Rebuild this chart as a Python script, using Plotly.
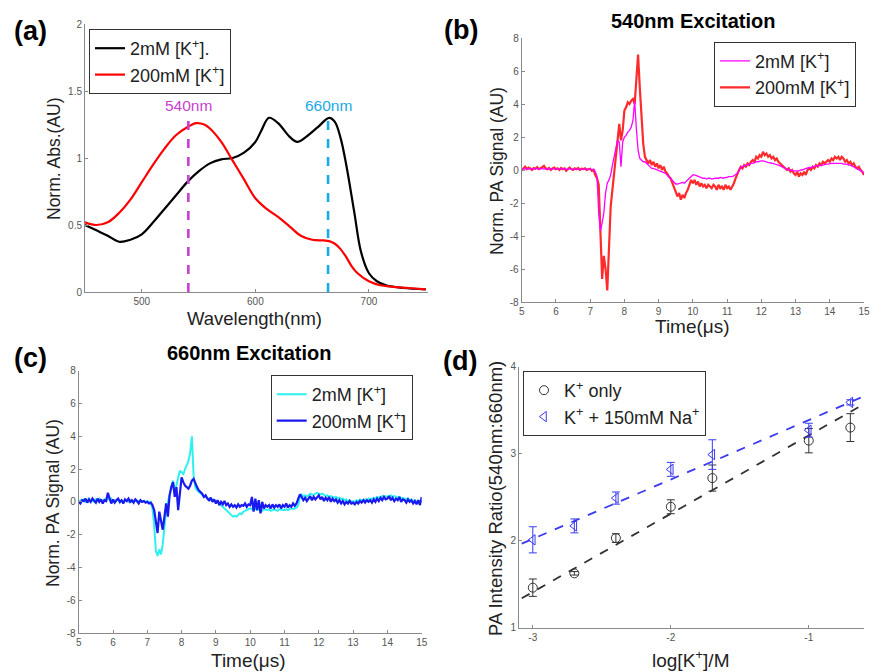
import plotly.graph_objects as go

W, H = 870, 672
FONT = "Arial, Liberation Sans, sans-serif"

# ---------------- (a) absorbance spectra ----------------
WL_2MM = [450, 460, 470, 480, 490, 500, 510, 520, 530, 540, 550, 560, 570, 580, 590, 600, 605,
          612, 620, 630, 637, 645, 655, 665, 670, 675, 680, 687, 693, 700, 707, 715, 730, 750]
ABS_2MM = [0.50, 0.46, 0.42, 0.375, 0.39, 0.43, 0.52, 0.62, 0.72, 0.82, 0.90, 0.96, 0.99, 1.00,
           1.04, 1.12, 1.20, 1.30, 1.26, 1.16, 1.12, 1.16, 1.23, 1.30, 1.27, 1.15, 0.95, 0.60,
           0.30, 0.14, 0.08, 0.05, 0.03, 0.02]
WL_200MM = [450, 460, 470, 480, 490, 500, 510, 520, 530, 540, 548, 555, 560, 570, 580, 590, 600,
            610, 620, 630, 640, 650, 660, 665, 670, 675, 680, 685, 690, 700, 710, 720, 735, 750]
ABS_200MM = [0.52, 0.50, 0.52, 0.59, 0.69, 0.82, 0.95, 1.07, 1.17, 1.23, 1.26, 1.25, 1.22, 1.12,
             0.98, 0.84, 0.70, 0.62, 0.56, 0.49, 0.42, 0.39, 0.385, 0.38, 0.36, 0.32, 0.26, 0.19,
             0.14, 0.08, 0.05, 0.04, 0.03, 0.02]
EXC_LABELS = ["540nm", "660nm"]
EXC_WL = [541, 664]
EXC_TOP = [1.32, 1.32]
EXC_COLORS = ["#c73fd0", "#1aaae6"]

# ---------------- (b), (c) PA time traces, sampled every 0.05 us from 5 us ----------------
T0, DT = 5.0, 0.05
PA540_200MM = [
    0.0, 0.1, 0.2, 0.05, 0.15, 0.1, 0.0, 0.12, 0.08, 0.18,
    0.05, 0.1, 0.15, 0.25, 0.1, 0.05, 0.12, 0.0, 0.1, 0.15,
    0.05, 0.1, 0.0, 0.12, 0.05, 0.1, -0.05, 0.08, 0.15, 0.05,
    0.0, 0.1, 0.05, 0.12, 0.0, 0.08, 0.05, 0.1, 0.0, 0.05,
    0.08, -0.05, 0.0, -0.3, -0.5, -0.9, -4.5, -6.6, -5.2, -6.0,
    -7.3, -4.2, -2.2, -1.2, -0.2, 1.0, 1.6, 2.8, 1.8, 2.4,
    3.6, 3.8, 4.1, 4.0, 4.2, 4.3, 4.0, 5.4, 7.0, 5.0,
    3.0, 1.6, 0.8, 0.6, 0.4, 0.6, 0.3, 0.5, 0.2, 0.4,
    0.1, 0.3, 0.0, 0.2, -0.1, -0.2, -0.4, -0.5, -0.8, -1.0,
    -1.3, -1.6, -1.4, -1.8, -1.5, -1.7, -1.4, -1.2, -0.9, -0.6,
    -0.8, -0.6, -0.9, -0.7, -1.0, -0.8, -1.0, -0.9, -1.1, -0.9,
    -1.0, -1.1, -0.9, -1.0, -1.2, -0.9, -1.1, -1.0, -1.2, -0.9,
    -1.1, -1.0, -1.2, -1.0, -0.8, -0.5, -0.2, 0.0, 0.2, 0.1,
    0.3, 0.2, 0.4, 0.3, 0.5, 0.6, 0.5, 0.8, 0.7, 0.9,
    0.8, 1.1, 0.9, 1.0, 0.8, 0.9, 0.7, 0.8, 0.6, 0.7,
    0.5, 0.4, 0.3, 0.2, 0.1, 0.0, 0.1, -0.1, 0.0, -0.2,
    -0.3, -0.1, -0.4, -0.2, -0.3, -0.1, -0.3, 0.0, 0.1, 0.0,
    0.2, 0.1, 0.3, 0.2, 0.4, 0.3, 0.5, 0.4, 0.5, 0.6,
    0.5, 0.7, 0.6, 0.8, 0.7, 0.8, 0.6, 0.8, 0.7, 0.5,
    0.6, 0.4, 0.5, 0.3, 0.4, 0.2, 0.1, 0.2, 0.0, -0.1,
    -0.3]
PA540_2MM = [
    0.05, 0.1, 0.05, 0.08, 0.05, 0.1, 0.05, 0.08, 0.06, 0.1,
    0.05, 0.08, 0.1, 0.05, 0.08, 0.05, 0.1, 0.05, 0.08, 0.06,
    0.05, 0.08, 0.05, 0.1, 0.05, 0.08, 0.04, 0.06, 0.08, 0.05,
    0.05, 0.08, 0.05, 0.06, 0.05, 0.08, 0.05, 0.06, 0.04, 0.05,
    0.05, 0.0, 0.05, -0.1, -0.4, -2.6, -3.7, -3.2, -2.6, -1.4,
    -0.8, -0.6, -0.3, 0.3, 0.8, 1.3, 1.8, 1.7, 0.2, 1.7,
    2.0, 2.1, 2.3, 2.4, 2.6, 3.0, 4.2, 2.5, 1.2, 0.7,
    0.6, 0.5, 0.5, 0.4, 0.3, 0.2, 0.1, 0.1, 0.05, 0.0,
    0.0, -0.05, -0.1, -0.15, -0.2, -0.3, -0.4, -0.5, -0.6, -0.7,
    -0.85, -0.85, -0.8, -0.8, -0.75, -0.8, -0.7, -0.6, -0.45, -0.35,
    -0.3, -0.3, -0.35, -0.4, -0.45, -0.5, -0.5, -0.5, -0.55, -0.5,
    -0.5, -0.55, -0.5, -0.5, -0.5, -0.5, -0.45, -0.5, -0.5, -0.45,
    -0.45, -0.4, -0.4, -0.4, -0.35, -0.3, -0.2, 0.0, 0.15, 0.2,
    0.25, 0.3, 0.3, 0.35, 0.4, 0.4, 0.45, 0.5, 0.5, 0.55,
    0.55, 0.55, 0.5, 0.5, 0.45, 0.45, 0.4, 0.4, 0.35, 0.3,
    0.3, 0.25, 0.2, 0.15, 0.1, 0.05, 0.0, 0.0, -0.05, -0.05,
    -0.05, -0.05, -0.05, 0.0, 0.0, 0.05, 0.1, 0.1, 0.15, 0.15,
    0.2, 0.2, 0.25, 0.25, 0.3, 0.3, 0.3, 0.35, 0.35, 0.35,
    0.4, 0.4, 0.4, 0.4, 0.4, 0.4, 0.4, 0.4, 0.35, 0.35,
    0.35, 0.3, 0.3, 0.25, 0.2, 0.15, 0.1, 0.05, 0.0, -0.1,
    -0.2]
PA660_2MM = [
    0.0, 0.1, 0.05, 0.15, 0.0, 0.1, 0.2, 0.05, 0.1, 0.0,
    0.15, 0.05, 0.2, 0.1, 0.0, 0.15, 0.1, 0.3, 0.1, 0.2,
    0.0, 0.1, 0.05, 0.15, -0.05, 0.1, 0.0, 0.1, 0.05, 0.0,
    0.1, 0.0, 0.05, 0.1, 0.0, 0.05, 0.1, 0.0, 0.05, 0.0,
    0.05, -0.05, 0.0, -0.4, -1.4, -3.0, -3.3, -2.9, -3.2, -2.6,
    -1.5, -0.5, 0.0, 0.5, 0.9, 1.3, 0.6, 1.0, 1.5, 1.9,
    1.8, 1.7, 2.0, 2.3, 2.5, 3.0, 4.0, 1.6, 0.9, 0.7,
    0.6, 0.5, 0.4, 0.35, 0.3, 0.25, 0.2, 0.1, 0.15, 0.05,
    0.0, 0.05, -0.1, -0.2, -0.3, -0.4, -0.5, -0.6, -0.7, -0.8,
    -0.9, -0.85, -0.9, -0.8, -0.7, -0.75, -0.6, -0.55, -0.5, -0.45,
    -0.4, -0.45, -0.5, -0.4, -0.5, -0.45, -0.5, -0.55, -0.45, -0.5,
    -0.5, -0.45, -0.55, -0.5, -0.45, -0.5, -0.55, -0.45, -0.5, -0.5,
    -0.5, -0.45, -0.5, -0.45, -0.4, -0.45, -0.4, -0.35, -0.2, 0.3,
    0.45, 0.35, 0.4, 0.3, 0.4, 0.5, 0.45, 0.4, 0.5, 0.55,
    0.5, 0.45, 0.5, 0.4, 0.35, 0.4, 0.3, 0.35, 0.3, 0.25,
    0.3, 0.2, 0.25, 0.15, 0.2, 0.1, 0.15, 0.05, 0.1, 0.0,
    0.05, 0.0, 0.1, 0.05, 0.15, 0.1, 0.05, 0.15, 0.1, 0.2,
    0.15, 0.2, 0.25, 0.2, 0.3, 0.25, 0.3, 0.35, 0.3, 0.35,
    0.3, 0.35, 0.4, 0.3, 0.35, 0.3, 0.25, 0.3, 0.2, 0.25,
    0.2, 0.15, 0.2, 0.1, 0.15, 0.05, 0.1, 0.0, 0.05, -0.05,
    0.0]
PA660_200MM = [
    0.0, -0.1, 0.1, 0.05, 0.2, -0.05, 0.15, 0.0, 0.2, 0.1,
    -0.05, 0.2, 0.0, 0.15, -0.1, 0.1, 0.05, 0.55, 0.2, -0.1,
    0.15, -0.05, 0.1, 0.2, 0.0, 0.1, -0.1, 0.15, 0.05, 0.2,
    0.0, 0.1, -0.05, 0.15, 0.05, -0.1, 0.1, 0.0, 0.05, -0.05,
    0.0, -0.1, -0.05, -0.2, -0.5, -1.1, -1.9, -0.6, -1.2, -1.7,
    -0.9, -0.1, -0.9, 0.4, 0.9, 1.2, 0.3, 0.9, -0.5, 0.7,
    1.5, 1.2, 1.0, 0.9, 0.8, 1.0, 1.3, 1.4, 1.1, 0.9,
    0.7, 0.6, 0.5, 0.3, 0.4, 0.2, 0.1, 0.25, 0.0, 0.15,
    -0.1, 0.1, -0.2, 0.0, -0.15, 0.05, -0.2, -0.1, -0.3, -0.15,
    -0.3, -0.2, -0.35, -0.15, -0.3, -0.2, -0.25, -0.1, -0.3, -0.15,
    -0.2, 0.3, -0.6, 0.2, -0.5, 0.1, -0.7, 0.0, -0.4, -0.2,
    -0.3, -0.2, -0.4, -0.15, -0.35, -0.2, -0.3, -0.15, -0.4, -0.2,
    -0.3, -0.1, -0.35, -0.2, -0.3, -0.1, -0.25, -0.1, 0.2, 0.45,
    0.3, 0.1, 0.25, 0.05, 0.2, 0.35, 0.1, 0.3, 0.15, 0.25,
    0.4, 0.15, 0.3, 0.05, 0.25, 0.1, 0.3, 0.0, 0.2, 0.05,
    0.15, -0.05, 0.1, -0.1, 0.05, -0.15, 0.0, -0.1, 0.05, -0.1,
    -0.05, -0.15, 0.0, -0.1, 0.05, -0.05, 0.1, -0.05, 0.1, 0.0,
    0.1, -0.05, 0.15, 0.0, 0.2, 0.05, 0.25, 0.1, 0.3, 0.15,
    0.2, 0.35, 0.1, 0.25, 0.05, 0.2, 0.1, 0.3, 0.0, 0.15,
    0.1, -0.05, 0.15, 0.0, 0.1, -0.1, 0.05, -0.15, 0.1, -0.2,
    0.3]

# ---------------- (d) ratio vs log[K+] ----------------
LOGK = [-3.0, -2.699, -2.398, -2.0, -1.699, -1.0, -0.699]
RATIO_K = [1.46, 1.625, 2.03, 2.39, 2.72, 3.15, 3.30]
ERR_K = [0.10, 0.02, 0.05, 0.08, 0.15, 0.14, 0.16]
RATIO_KNA = [2.01, 2.17, 2.49, 2.82, 2.99, 3.27, 3.59]
ERR_KNA = [0.15, 0.08, 0.07, 0.08, 0.17, 0.08, 0.03]
FIT_K = [0.90, 4.11]      # slope, intercept
FIT_KNA = [0.683, 4.07]
FIT_X = [-3.08, -0.6]

# tick labels (hyphen minus, as in the original)
TICKS_A_X = [500, 600, 700]
TICKS_A_Y = [0, 0.5, 1, 1.5, 2]
TICKS_T = [5, 6, 7, 8, 9, 10, 11, 12, 13, 14, 15]
TICKS_PA = [-8, -6, -4, -2, 0, 2, 4, 6, 8]
TICKS_D_X = [-3, -2, -1]
TICKS_D_Y = [1, 2, 3, 4]


def lbl(vals):
    return [f"{v:g}" for v in vals]


def times(vals):
    return [round(T0 + DT * i, 4) for i in range(len(vals))]


def dom_x(a, b):
    return [a / W, b / W]


def dom_y(top, bottom):
    return [1 - bottom / H, 1 - top / H]


AX = dict(showline=True, linecolor="#8a8a8a", linewidth=1, ticks="inside", ticklen=3,
          tickcolor="#8a8a8a", tickfont=dict(size=10, color="#555555", family=FONT),
          showgrid=False, zeroline=False, mirror=False, tickmode="array")

fig = go.Figure()

# (a)
fig.add_trace(go.Scatter(x=WL_2MM, y=ABS_2MM, mode="lines", line=dict(color="black", width=2.2, shape="spline"),
                         name="2mM [K<sup>+</sup>].", xaxis="x", yaxis="y", legend="legend"))
fig.add_trace(go.Scatter(x=WL_200MM, y=ABS_200MM, mode="lines", line=dict(color="#ff0000", width=2.2, shape="spline"),
                         name="200mM [K<sup>+</sup>]", xaxis="x", yaxis="y", legend="legend"))
for wl, top, col in zip(EXC_WL, EXC_TOP, EXC_COLORS):
    fig.add_trace(go.Scatter(x=[wl, wl], y=[0, top], mode="lines", line=dict(color=col, width=2.6, dash="dash"),
                             showlegend=False, xaxis="x", yaxis="y"))

# (b)
fig.add_trace(go.Scatter(x=times(PA540_200MM), y=PA540_200MM, mode="lines", line=dict(color="#ff2a2a", width=2.2),
                         name="200mM [K<sup>+</sup>]", xaxis="x2", yaxis="y2", legend="legend2", legendrank=2))
fig.add_trace(go.Scatter(x=times(PA540_2MM), y=PA540_2MM, mode="lines", line=dict(color="#ff00ff", width=1.3),
                         name="2mM [K<sup>+</sup>]", xaxis="x2", yaxis="y2", legend="legend2", legendrank=1))

# (c)
fig.add_trace(go.Scatter(x=times(PA660_2MM), y=PA660_2MM, mode="lines", line=dict(color="#2ef0f0", width=2.0),
                         name="2mM [K<sup>+</sup>]", xaxis="x3", yaxis="y3", legend="legend3", legendrank=1))
fig.add_trace(go.Scatter(x=times(PA660_200MM), y=PA660_200MM, mode="lines", line=dict(color="#1a1aee", width=2.2),
                         name="200mM [K<sup>+</sup>]", xaxis="x3", yaxis="y3", legend="legend3", legendrank=2))

# (d)
for fit, col in ((FIT_K, "#333333"), (FIT_KNA, "#3a3af0")):
    fig.add_trace(go.Scatter(x=FIT_X, y=[fit[0] * x + fit[1] for x in FIT_X], mode="lines",
                             line=dict(color=col, width=1.8, dash="dash"), showlegend=False,
                             xaxis="x4", yaxis="y4"))
fig.add_trace(go.Scatter(x=LOGK, y=RATIO_K, mode="markers",
                         marker=dict(symbol="circle-open", size=9, color="#333333", line=dict(width=1)),
                         error_y=dict(type="data", array=ERR_K, color="#333333", thickness=1, width=4),
                         name="K<sup>+</sup> only", xaxis="x4", yaxis="y4", legend="legend4"))
fig.add_trace(go.Scatter(x=LOGK, y=RATIO_KNA, mode="markers",
                         marker=dict(symbol="triangle-left-open", size=9, color="#3a3af0", line=dict(width=1)),
                         error_y=dict(type="data", array=ERR_KNA, color="#3a3af0", thickness=1, width=4),
                         name="K<sup>+</sup> + 150mM Na<sup>+</sup>", xaxis="x4", yaxis="y4", legend="legend4"))

LEG = dict(bgcolor="white", bordercolor="#333333", borderwidth=1, font=dict(size=18, family=FONT, color="#222"),
           xanchor="left", yanchor="top", traceorder="normal", tracegroupgap=0, itemwidth=30)

annotations = []


def ann(text, x, y, size, bold=False, angle=0, color="#222222", xref="paper", yref="paper"):
    if xref == "paper":
        x = x / W
    if yref == "paper":
        y = 1 - y / H
    annotations.append(dict(text=f"<b>{text}</b>" if bold else text, x=x, y=y, xref=xref, yref=yref,
                            showarrow=False, textangle=angle, xanchor="center", yanchor="middle",
                            font=dict(size=size, family=FONT, color=color)))


ann("(a)", 30, 31, 27, bold=True, color="black")
ann("(b)", 461, 30, 27, bold=True, color="black")
ann("(c)", 30, 358, 27, bold=True, color="black")
ann("(d)", 460, 361, 27, bold=True, color="black")
ann("540nm Excitation", 693, 21, 20, bold=True, color="black")
ann("660nm Excitation", 250, 353, 20, bold=True, color="black")
ann("Wavelength(nm)", 254, 318, 18.5)
ann("Norm. Abs.(AU)", 54, 159, 17.5, angle=-90)
ann("Time(\u03bcs)", 692, 327, 19)
ann("Norm. PA Signal (AU)", 497, 171, 17.5, angle=-90)
ann("Time(\u03bcs)", 248, 660, 19)
ann("Norm. PA Signal (AU)", 53, 503, 17.5, angle=-90)
ann("log[K<sup>+</sup>]/M", 690, 659, 19)
ann("PA Intensity Ratio(540nm:660nm)", 495, 499, 18.5, angle=-90)
for lab, wl, top, col in zip(EXC_LABELS, EXC_WL, EXC_TOP, EXC_COLORS):
    annotations.append(dict(text=lab, x=wl, y=top, xref="x", yref="y", showarrow=False,
                            xanchor="center", yanchor="bottom", yshift=-1,
                            font=dict(size=15.5, family=FONT, color=col)))

fig.update_layout(
    width=W, height=H, margin=dict(l=0, r=0, t=0, b=0, pad=0, autoexpand=False),
    paper_bgcolor="white", plot_bgcolor="white",
    font=dict(family=FONT),
    xaxis=dict(AX, domain=dom_x(85, 428), range=[450, 752], tickvals=TICKS_A_X, ticktext=lbl(TICKS_A_X), anchor="y"),
    yaxis=dict(AX, domain=dom_y(24, 292), range=[0, 2], tickvals=TICKS_A_Y, ticktext=lbl(TICKS_A_Y), anchor="x"),
    xaxis2=dict(AX, domain=dom_x(521.7, 864), range=[5, 15], tickvals=TICKS_T, ticktext=lbl(TICKS_T), anchor="y2"),
    yaxis2=dict(AX, domain=dom_y(38, 302), range=[-8, 8], tickvals=TICKS_PA, ticktext=lbl(TICKS_PA), anchor="x2"),
    xaxis3=dict(AX, domain=dom_x(78.7, 421.7), range=[5, 15], tickvals=TICKS_T, ticktext=lbl(TICKS_T), anchor="y3"),
    yaxis3=dict(AX, domain=dom_y(370.7, 633), range=[-8, 8], tickvals=TICKS_PA, ticktext=lbl(TICKS_PA), anchor="x3"),
    xaxis4=dict(AX, domain=dom_x(519, 864), range=[-3.1, -0.6], tickvals=TICKS_D_X, ticktext=lbl(TICKS_D_X), anchor="y4"),
    yaxis4=dict(AX, domain=dom_y(366.7, 627.7), range=[1, 4], tickvals=TICKS_D_Y, ticktext=lbl(TICKS_D_Y), anchor="x4"),
    legend=dict(LEG, x=89 / W, y=1 - 29 / H),
    legend2=dict(LEG, x=714 / W, y=1 - 41.7 / H),
    legend3=dict(LEG, x=270.7 / W, y=1 - 375 / H),
    legend4=dict(LEG, x=523 / W, y=1 - 371 / H),
    annotations=annotations,
    showlegend=True,
)

fig.write_html("out.html")
